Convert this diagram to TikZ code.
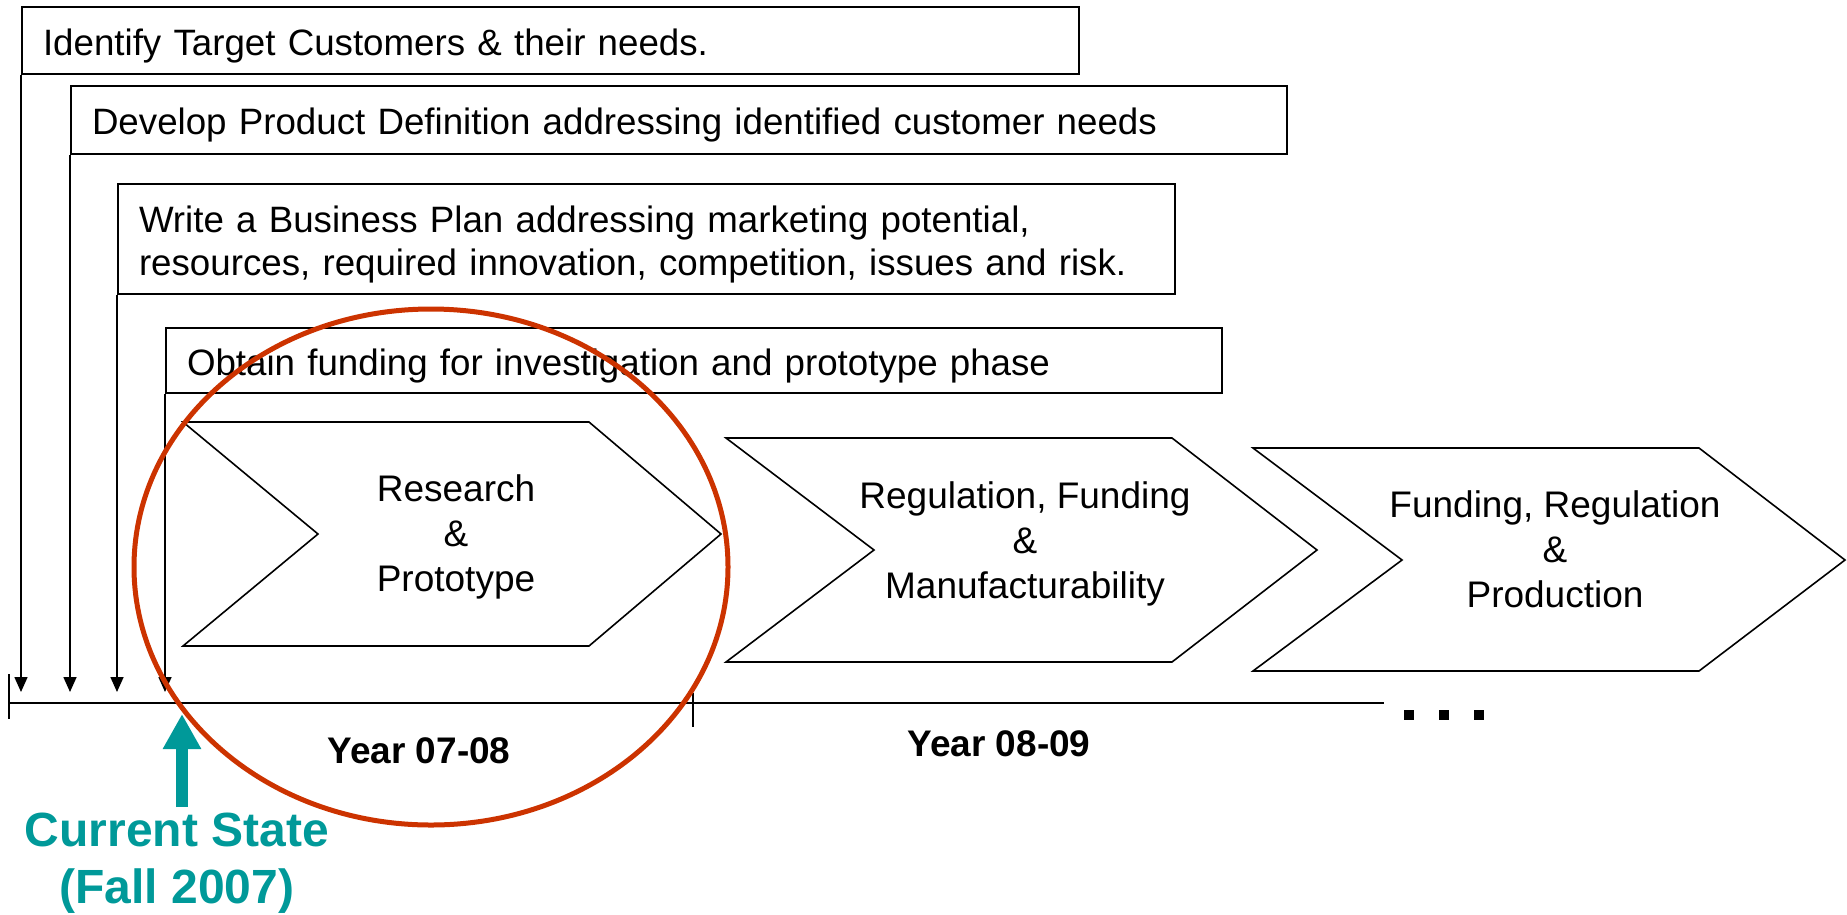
\documentclass[tikz,border=0pt]{standalone}
\usepackage{fontspec}
\setmainfont{Liberation Sans}
\usetikzlibrary{arrows.meta}
\definecolor{tealc}{HTML}{009999}
\definecolor{redc}{HTML}{CC3300}
\begin{document}
\begin{tikzpicture}[x=1pt,y=-1pt,
  taskbox/.style={draw, line width=2pt, rectangle, anchor=north west, inner xsep=21pt, inner ysep=0pt, align=left, text height=29pt, font=\fontsize{36.7}{43}\selectfont},
  chev/.style={draw, line width=1.6pt, line join=miter},
  chevtext/.style={align=center, font=\fontsize{37}{45}\selectfont},
  yeartext/.style={font=\bfseries\fontsize{37}{43}\selectfont},
  downarr/.style={line width=1.6pt, -{Triangle[length=15pt,width=13pt]}},
  tline/.style={line width=1.6pt},
  dotsq/.style={fill=black, minimum size=10pt, inner sep=0pt, draw=none, rectangle}]
\useasboundingbox (0,0) rectangle (1847,914);

% task boxes
\node[taskbox, minimum height=67pt, text width=1015pt, text depth=0pt] (b1) at (21,6) {Identify Target Customers \& their needs.};
\node[taskbox, minimum height=68pt, text width=1174pt, text depth=0pt] (b2) at (70,85) {Develop Product Definition addressing identified customer needs};
\node[taskbox, minimum height=110pt, text width=1015pt, text depth=43pt] (b3) at (117,183) {Write a Business Plan addressing marketing potential,\\resources, required innovation, competition, issues and risk.};
\node[taskbox, minimum height=65pt, text width=1014pt, text depth=0pt] (b4) at (165,327) {Obtain funding for investigation and prototype phase};

% timeline
\coordinate (tlL) at (9,703);
\coordinate (tlR) at (1384,703);
\coordinate (tip) at (0,692);
\draw[tline] (tlL) -- (tlR);
\draw[tline] (9,674) -- (9,719);
\draw[tline] (693,693) -- (693,727);

% down arrows from boxes
\draw[downarr] (b1.south west) -- (b1.south west |- tip);
\draw[downarr] (b2.south west) -- (b2.south west |- tip);
\draw[downarr] (b3.south west) -- (b3.south west |- tip);
\draw[downarr] (b4.south west) -- (b4.south west |- tip);

% chevrons
\draw[chev] (183,422) -- (589,422) -- (721,534) -- (589,646) -- (183,646) -- (318,534) -- cycle;
\draw[chev] (726,438) -- (1172,438) -- (1317,550) -- (1172,662) -- (726,662) -- (874,550) -- cycle;
\draw[chev] (1253,448) -- (1699,448) -- (1845,560) -- (1699,671) -- (1253,671) -- (1402,560) -- cycle;
\node[chevtext] (c1) at (456,536.5) {Research\\\&\\Prototype};
\node[chevtext] (c2) at (1025,543.5) {Regulation, Funding\\\&\\Manufacturability};
\node[chevtext] (c3) at (1555,549) {Funding, Regulation\\\&\\Production};

% year labels
\node[yeartext] (y1) at (419,751) {Year 07-08};
\node[yeartext] (y2) at (999,744) {Year 08-09};

% continuation dots
\node[dotsq] (d1) at (1409,715) {};
\node[dotsq] (d2) at (1444,715) {};
\node[dotsq] (d3) at (1479,715) {};

% current state
\node[align=center, text=tealc, font=\bfseries\fontsize{48}{57}\selectfont] (cs) at (177,863) {Current State\\(Fall 2007)};
\coordinate (csTip) at (182,714);
\draw[tealc, line width=12pt, -{Triangle[length=35pt,width=36pt]}] (182,807) -- (csTip);

% highlight ellipse
\draw[redc, line width=5pt] (431,567) ellipse [x radius=297, y radius=258];
\end{tikzpicture}
\end{document}
